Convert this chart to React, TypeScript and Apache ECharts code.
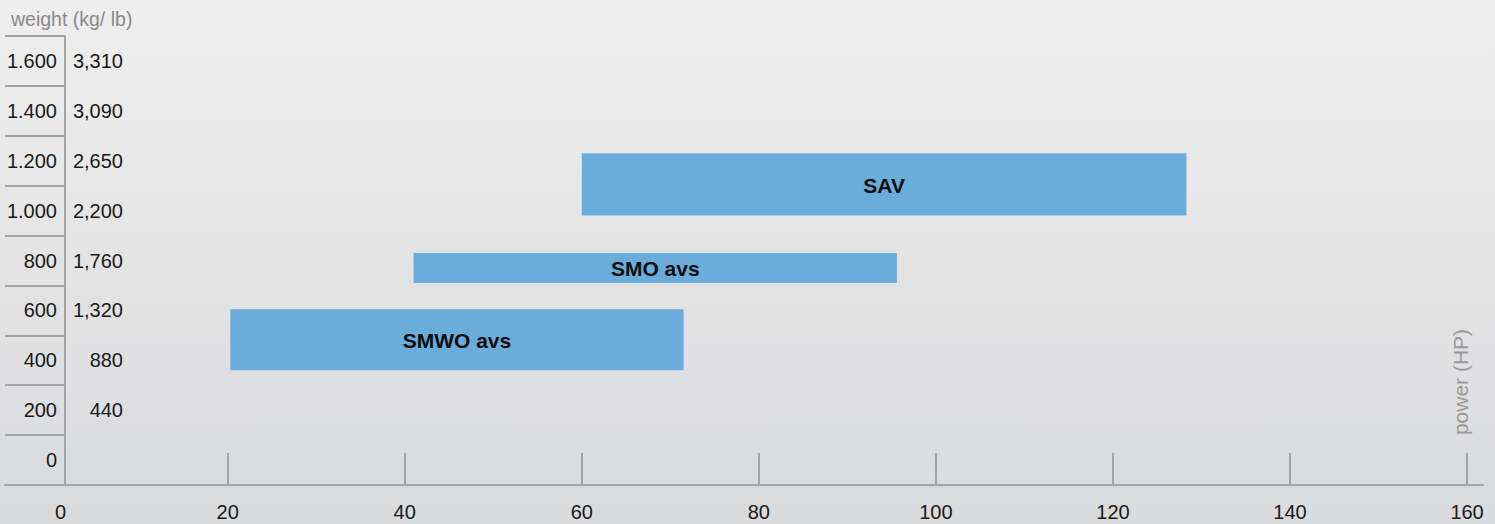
import React, { useEffect, useRef } from "react";
import * as echarts from "echarts";

const seriesNames = ["SAV", "SMO avs", "SMWO avs"];
const powerStart = [60, 41, 20.3];
const powerEnd = [128.3, 95.6, 71.5];
const weightLow = [1080, 810, 460];
const weightHigh = [1330, 930, 705];

const kgLabels = ["0", "200", "400", "600", "800", "1.000", "1.200", "1.400", "1.600"];
const lbLabels = ["", "440", "880", "1,320", "1,760", "2,200", "2,650", "3,090", "3,310"];
const powerLabels = [0, 20, 40, 60, 80, 100, 120, 140, 160];
const powerTickValues = [20, 40, 60, 80, 100, 120, 140, 160];

const FONT = '"Liberation Sans", Arial, Helvetica, sans-serif';

export default function App() {
  const ref = useRef<HTMLDivElement>(null);
  useEffect(() => {
    if (!ref.current) return;
    const chart = echarts.init(ref.current, null, { renderer: "svg" });
    const data = seriesNames.map((n, i) => [powerStart[i], powerEnd[i], weightLow[i], weightHigh[i], n]);
    const gray = "#a4a4a4";
    chart.setOption({
      animation: false,
      title: {
        text: "weight (kg/ lb)",
        left: 11,
        top: 9,
        padding: 0,
        textStyle: { fontFamily: FONT, fontSize: 19.5, fontWeight: "normal", color: "#8a8a8a" },
      },
      grid: { left: 5, right: 12, top: 36, bottom: 39, containLabel: false, outerBoundsMode: "none" },
      xAxis: {
        type: "value",
        min: -5.15,
        max: 161.8,
        splitLine: { show: false },
        axisLine: { show: true, lineStyle: { color: gray, width: 2 } },
        axisTick: { show: true, inside: true, length: 32, customValues: powerTickValues, lineStyle: { color: gray, width: 2 } },
        axisLabel: {
          customValues: powerLabels,
          margin: 17,
          fontFamily: FONT,
          fontSize: 20,
          color: "#1a1a1a",
          formatter: (v: number) => (v === 0 ? "{z|0}" : String(v)),
          rich: { z: { padding: [0, 0, 0, 20], fontFamily: FONT, fontSize: 20, color: "#1a1a1a" } },
        },
      },
      yAxis: [
        {
          type: "category",
          data: kgLabels,
          position: "left",
          offset: -60,
          boundaryGap: true,
          axisLine: { show: true, lineStyle: { color: gray, width: 2 } },
          axisTick: { show: true, length: 60, interval: 0, lineStyle: { color: gray, width: 2 } },
          axisLabel: { margin: 8, fontFamily: FONT, fontSize: 20, color: "#1a1a1a", interval: 0 },
          splitLine: { show: false },
        },
        {
          type: "category",
          data: lbLabels,
          position: "left",
          offset: -60,
          boundaryGap: true,
          axisLine: { show: false },
          axisTick: { show: false },
          axisLabel: { inside: true, margin: 58, align: "right", fontFamily: FONT, fontSize: 20, color: "#1a1a1a", interval: 0 },
          splitLine: { show: false },
        },
        {
          type: "value",
          min: 0,
          max: 1800,
          show: false,
          splitLine: { show: false },
        },
      ],
      series: [
        {
          type: "custom",
          xAxisIndex: 0,
          yAxisIndex: 2,
          encode: { x: [0, 1], y: [2, 3] },
          data,
          renderItem: (params: any, api: any) => {
            const p0 = api.coord([api.value(0), api.value(3)]);
            const p1 = api.coord([api.value(1), api.value(2)]);
            const name = seriesNames[params.dataIndex];
            return {
              type: "group",
              children: [
                {
                  type: "rect",
                  shape: { x: p0[0], y: p0[1], width: p1[0] - p0[0], height: p1[1] - p0[1] },
                  style: { fill: "#6aacda" },
                },
                {
                  type: "text",
                  style: {
                    text: name,
                    x: (p0[0] + p1[0]) / 2,
                    y: (p0[1] + p1[1]) / 2 + 1,
                    align: "center",
                    verticalAlign: "middle",
                    font: `bold 21px ${FONT}`,
                    fill: "#0d0d0d",
                  },
                },
              ],
            };
          },
        },
      ],
      graphic: [
        {
          type: "text",
          x: 1460,
          y: 382,
          rotation: Math.PI / 2,
          style: {
            text: "power (HP)",
            align: "center",
            verticalAlign: "middle",
            font: `21px ${FONT}`,
            fill: "#999999",
          },
        },
      ],
    });
    return () => chart.dispose();
  }, []);
  return (
    <div
      style={{
        position: "fixed",
        left: 0,
        top: 0,
        width: 1495,
        height: 524,
        background: "linear-gradient(to bottom, #efefef 0%, #e4e4e5 50%, #d9dadc 100%)",
      }}
    >
      <div ref={ref} style={{ width: 1495, height: 524 }} />
    </div>
  );
}
